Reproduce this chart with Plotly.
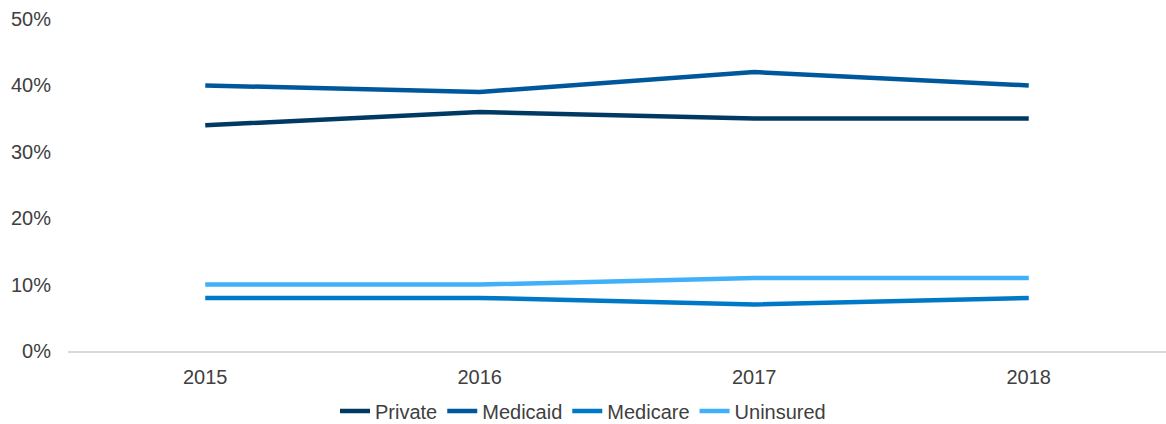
import plotly.graph_objects as go

years = ["2015", "2016", "2017", "2018"]
private = [34, 36, 35, 35]
medicaid = [40, 39, 42, 40]
medicare = [8, 8, 7, 8]
uninsured = [10, 10, 11, 11]

series = [
    ("Private", private, "#003a63"),
    ("Medicaid", medicaid, "#00589c"),
    ("Medicare", medicare, "#0078c8"),
    ("Uninsured", uninsured, "#41b0f8"),
]

fig = go.Figure()
for name, vals, color in series:
    fig.add_trace(go.Scatter(
        x=years, y=[v / 100 for v in vals], name=name, mode="lines",
        line=dict(color=color, width=4.5),
    ))

font = dict(family="Liberation Sans, Arial, sans-serif", size=20, color="#404040")

fig.update_layout(
    width=1166, height=424,
    margin=dict(l=68, r=0, t=19, b=73),
    paper_bgcolor="white", plot_bgcolor="white",
    font=font,
    showlegend=True,
    legend=dict(
        orientation="h", x=0.5, xanchor="center", xref="container",
        y=13 / 424, yanchor="middle", yref="container",
        font=font, itemwidth=30, tracegroupgap=0,
        bgcolor="rgba(0,0,0,0)",
    ),
    xaxis=dict(
        type="category", range=[-0.5, 3.5],
        showgrid=False, showline=True, linecolor="#d9d9d9", linewidth=2,
        ticks="", ticklabelstandoff=7, tickfont=font,
    ),
    yaxis=dict(
        range=[0, 0.5], dtick=0.1, tickformat=".0%",
        showgrid=False, showline=False, zeroline=False,
        ticks="", ticklabelstandoff=16, tickfont=font,
    ),
)

fig.write_html("out.html")
